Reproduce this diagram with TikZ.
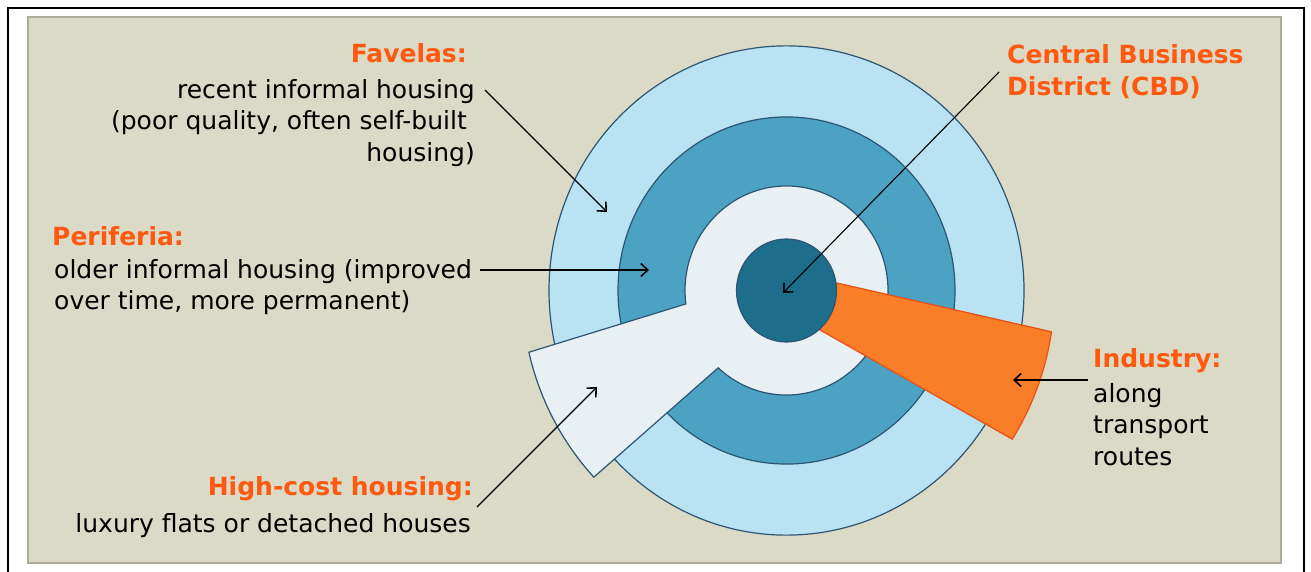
\documentclass[tikz,border=0pt]{standalone}
\usepackage{fontspec}
\setmainfont{DejaVu Sans}
\usetikzlibrary{arrows.meta,calc}
\definecolor{beige}{RGB}{219,218,198}
\definecolor{paneledge}{RGB}{172,172,152}
\definecolor{ringouter}{RGB}{185,226,243}
\definecolor{ringmid}{RGB}{75,162,194}
\definecolor{ringlight}{RGB}{232,240,244}
\definecolor{ringdark}{RGB}{28,110,138}
\definecolor{ringline}{RGB}{45,85,115}
\definecolor{indfill}{RGB}{250,125,40}
\definecolor{indline}{RGB}{232,80,20}
\definecolor{labelorange}{RGB}{255,88,15}
\begin{document}
\begin{tikzpicture}[x=1pt,y=-1pt,
  ringedge/.style={draw=ringline,line width=1.2pt},
  title/.style={font=\fontsize{25}{32}\selectfont\bfseries, text=labelorange, inner sep=0pt},
  body/.style={font=\fontsize{25}{31.5}\selectfont, inner sep=0pt},
  arr/.style={line width=1.3pt, -{Straight Barb[length=7pt,width=13pt,line width=1.6pt]}}]
\useasboundingbox (0,0) rectangle (1311,572);
\fill[white] (0,0) rectangle (1311,572);
\draw[line width=2.5pt] (8,8) rectangle (1304,600);
\draw[fill=beige, draw=paneledge, line width=2pt] (28,17) rectangle (1281,563);
\begin{scope}[shift={(786.5,290.5)}, yscale=-1.03]
  \filldraw[ringedge, fill=ringouter] (0,0) circle[radius=237.5];
  \filldraw[ringedge, fill=ringmid] (0,0) circle[radius=168.5];
  \filldraw[ringedge, fill=ringlight] (227.7:101.5) arc[start angle=227.7, end angle=547.4, radius=101.5]
     -- (193.1:264.5) arc[start angle=193.1, end angle=223.25, radius=264.5] -- cycle;
  \filldraw[draw=indline, line width=1.2pt, fill=indfill] (8.2:51) -- (-8.6:268)
     arc[start angle=-8.6, end angle=-32.6, radius=268] -- (-48.8:51) -- cycle;
  \filldraw[ringedge, fill=ringdark] (0,0) circle[radius=50];
\end{scope}
% labels
\node[title, anchor=base east] (favtitle) at (467,63) {Favelas:};
\node[body, anchor=north east, align=right] (favbody) at (475,79)
  {recent informal housing\\(poor quality, often self-built\kern8pt\\housing)};
\node[title, anchor=base west] (pertitle) at (52,245) {Periferia:};
\node[body, anchor=north west, align=left] (perbody) at (54,259)
  {older informal housing (improved\\over time, more permanent)};
\node[title, anchor=north west, align=left] (cbdtitle) at (1007,44)
  {Central Business\\District (CBD)};
\node[title, anchor=base west] (indtitle) at (1093,367) {Industry:};
\node[body, anchor=north west, align=left] (indbody) at (1093,383)
  {along\\transport\\routes};
\node[title, anchor=base east] (hctitle) at (473,495) {High-cost housing:};
\node[body, anchor=base east] (hcbody) at (471,532) {luxury flats or detached houses};
% connectors
\coordinate (favfrom) at (485,90);  \coordinate (favto) at (607,212);
\coordinate (perfrom) at (480,270); \coordinate (perto) at (649,270);
\coordinate (cbdfrom) at (999,72);  \coordinate (cbdto) at (783,293);
\coordinate (indfrom) at (1088,380); \coordinate (indto) at (1013,380);
\coordinate (hcfrom) at (477,507);  \coordinate (hcto) at (597,387);
\draw[arr, line width=1.1pt] (favfrom) -- (favto);
\draw[arr] (perfrom) -- (perto);
\draw[arr, line width=1.1pt] (cbdfrom) -- (cbdto);
\draw[arr] (indfrom) -- (indto);
\draw[arr, line width=1.1pt] (hcfrom) -- (hcto);
\end{tikzpicture}
\end{document}
